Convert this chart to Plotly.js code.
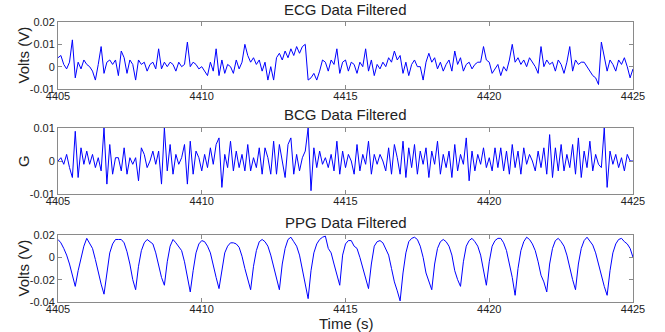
<!DOCTYPE html>
<html>
<head>
<meta charset="utf-8">
<script src="https://cdn.plot.ly/plotly-3.0.1.min.js"></script>
<style>html,body{margin:0;padding:0;background:#fff;}#chart{width:665px;height:332px;}</style>
</head>
<body>
<div id="chart"></div>
<script>
// Sampling: one value every 0.1 s from 4405 s to 4425 s
const timeStart = 4405;
const timeStep = 0.1;

// ECG filtered (V)
const ecgValues = [
  .004,.005,.001,-.001,.002,.012,-.005,.002,-.001,.003,
  .001,.000,-.002,-.006,.001,.009,-.003,.002,.003,.001,
  .003,-.004,.007,.004,-.003,.003,.001,-.006,.003,.001,
  .002,-.002,.001,.002,-.001,.008,-.001,.002,.000,.002,
  .001,-.002,.002,.000,.001,.011,.000,.002,.001,-.001,
  .000,-.002,-.004,.002,-.002,.008,-.004,.003,-.003,.001,
  .000,-.003,.003,-.001,.002,.010,.005,.002,.004,.001,
  .003,-.002,.002,-.006,.000,-.006,.004,.006,.003,.007,
  .004,.008,.005,.009,.006,.009,.010,-.006,-.005,-.003,
  -.006,-.002,.003,.002,-.002,.003,.001,.008,-.003,.002,
  .003,-.002,.002,.001,-.003,.002,.000,.008,-.002,.003,
  -.004,.001,-.001,.002,.000,.004,.002,.007,.003,.005,
  -.003,.002,-.004,.001,.003,.000,.000,-.006,.002,.006,
  .002,.004,-.001,.002,-.002,.001,.003,-.002,.007,.001,
  .004,-.002,.001,.002,-.001,.001,.002,.002,.009,.003,
  .002,-.003,-.001,.001,-.004,.000,-.002,.003,.010,.002,
  .004,.001,.003,.000,.004,.002,.000,-.003,.009,.000,
  .003,.001,.002,-.002,.003,.001,-.003,.002,.009,-.002,
  .003,.001,.002,.002,.000,-.002,-.004,-.005,-.008,.011,
  .004,-.002,.003,.001,-.002,.003,.001,.004,.000,-.005,
  -.001
];

// BCG filtered (G)
const bcgValues = [
  .000,.001,-.001,.002,-.002,-.005,.009,-.005,.004,-.001,
  .003,-.001,.002,-.002,.001,-.003,.010,-.007,.005,-.004,
  .001,.001,-.003,.004,-.004,.001,-.001,.001,-.006,.004,
  .002,-.002,.000,.003,-.001,.003,-.007,.010,-.003,.005,
  -.004,.002,-.001,.001,.005,-.007,.006,-.004,.003,.001,
  -.003,.002,-.002,.004,-.001,.005,.007,-.008,.002,-.002,
  .006,-.003,.003,-.002,.002,-.003,.005,-.003,.001,-.002,
  .004,-.004,.004,.001,-.004,.006,-.004,.005,.000,-.005,
  .005,.007,-.004,.002,-.003,.001,.003,.010,-.009,.004,
  -.002,.003,-.001,.001,-.002,.002,-.003,.006,-.004,.003,
  -.002,.002,.000,-.004,.005,-.003,.002,-.001,.006,-.004,
  .002,-.001,.002,.000,-.003,.004,-.004,.005,.001,-.004,
  .006,-.005,.004,-.002,.005,-.004,.003,-.001,.004,-.005,
  .003,-.001,.006,-.004,.002,-.002,.003,-.005,.005,-.003,
  .002,-.001,.007,-.006,.003,-.003,.002,-.001,.004,-.002,
  .001,-.003,.004,-.002,.004,-.003,.003,-.004,.005,-.002,
  .003,-.004,.004,-.001,.002,.000,-.003,.003,-.002,.004,
  -.004,.008,-.005,.004,-.003,.005,-.003,.002,-.002,.005,
  -.004,.007,-.005,.003,-.002,.006,-.003,.002,-.001,-.002,
  .010,-.008,.003,-.001,.002,-.002,.001,-.003,.002,.000,
  .000
];

// PPG filtered (V)
const ppgValues = [
  .016,.013,.008,.002,-.006,-.016,-.026,-.012,.000,.010,
  .017,.012,.008,-.002,-.014,-.024,-.033,-.012,.004,.012,
  .016,.016,.016,.013,.005,-.006,-.020,-.029,-.008,.006,
  .013,.016,.014,.012,.004,-.008,-.018,-.025,-.004,.010,
  .016,.013,.010,.006,-.004,-.018,-.031,-.012,.004,.012,
  .015,.014,.010,.004,-.008,-.018,-.028,-.010,.004,.010,
  .013,.013,.012,.009,.001,-.010,-.020,-.029,-.008,.006,
  .014,.016,.014,.010,.002,-.008,-.018,-.029,-.006,.008,
  .016,.018,.014,.010,.002,-.010,-.022,-.037,-.012,.004,
  .012,.016,.018,.019,.008,.004,-.006,-.016,-.025,.002,
  .012,.015,.015,.010,.008,.000,-.010,-.020,-.028,-.006,
  .010,.014,.015,.013,.008,.002,-.010,-.022,-.030,-.039,
  -.014,.004,.014,.017,.018,.016,.010,.000,-.014,-.022,
  -.029,-.006,.008,.014,.016,.014,.010,.002,-.012,-.020,
  -.026,-.004,.010,.015,.017,.014,.010,.002,-.010,-.025,
  -.004,.010,.015,.017,.017,.013,.006,-.006,-.018,-.034,
  -.010,.006,.014,.018,.016,.012,.006,-.004,-.016,-.022,
  -.031,-.006,.008,.015,.017,.014,.010,.002,-.010,-.020,
  -.029,-.006,.008,.015,.018,.015,.011,.004,-.006,-.018,
  -.026,-.034,-.012,.004,.012,.016,.017,.014,.012,.008,
  .000
];

// Tick values / labels
const xTickVals = [4405, 4410, 4415, 4420, 4425];
const xTickText = ['4405', '4410', '4415', '4420', '4425'];
const ecgTickVals = [-0.01, 0, 0.01, 0.02];
const ecgTickText = ['-0.01', '0', '0.01', '0.02'];
const bcgTickVals = [-0.01, 0, 0.01];
const bcgTickText = ['-0.01', '0', '0.01'];
const ppgTickVals = [-0.04, -0.02, 0, 0.02];
const ppgTickText = ['-0.04', '-0.02', '0', '0.02'];

const panelTitles = ['ECG Data Filtered', 'BCG Data Filtered', 'PPG Data Filtered'];
const yTitles = ['Volts (V)', 'G', 'Volts (V)'];
const xTitle = 'Time (s)';

const timeOf = (arr) => arr.map((_, i) => +(timeStart + i * timeStep).toFixed(2));

const W = 665, H = 332;
const px = (x) => x / W;
const py = (y) => 1 - y / H;

const lineStyle = {color: '#0000ff', width: 1};
const traces = [
  {x: timeOf(ecgValues), y: ecgValues, type: 'scatter', mode: 'lines', line: lineStyle, xaxis: 'x', yaxis: 'y', hoverinfo: 'skip'},
  {x: timeOf(bcgValues), y: bcgValues, type: 'scatter', mode: 'lines', line: lineStyle, xaxis: 'x2', yaxis: 'y2', hoverinfo: 'skip'},
  {x: timeOf(ppgValues), y: ppgValues, type: 'scatter', mode: 'lines', line: lineStyle, xaxis: 'x3', yaxis: 'y3', hoverinfo: 'skip'}
];

const font = {family: 'Liberation Sans, Arial, sans-serif', size: 11, color: '#222'};
const axisBase = {
  showline: true, mirror: 'ticks', linecolor: '#8a8a8a', linewidth: 1,
  ticks: 'inside', ticklen: 4, tickcolor: '#8a8a8a', showgrid: false, zeroline: false,
  tickfont: font, fixedrange: true
};
const xAxis = (anchor) => Object.assign({}, axisBase, {
  range: [4405, 4425], domain: [px(58), px(633)], anchor: anchor,
  tickmode: 'array', tickvals: xTickVals, ticktext: xTickText,
  ticklabelstandoff: -3
});
const yAxis = (anchor, top, bottom, range, vals, text) => Object.assign({}, axisBase, {
  range: range, domain: [py(bottom), py(top)], anchor: anchor,
  tickmode: 'array', tickvals: vals, ticktext: text
});

const titleFont = {family: 'Liberation Sans, Arial, sans-serif', size: 15, color: '#222'};
const ann = (text, x, y, angle) => ({
  text: text, xref: 'paper', yref: 'paper', x: x, y: y, xanchor: 'center', yanchor: 'middle',
  showarrow: false, font: titleFont, textangle: angle || 0
});

const layout = {
  width: W, height: H,
  margin: {l: 0, r: 0, t: 0, b: 0},
  paper_bgcolor: '#fff', plot_bgcolor: '#fff',
  showlegend: false,
  font: font,
  xaxis: xAxis('y'),
  yaxis: yAxis('x', 22, 89, [-0.01, 0.02], ecgTickVals, ecgTickText),
  xaxis2: xAxis('y2'),
  yaxis2: yAxis('x2', 128, 194, [-0.01, 0.01], bcgTickVals, bcgTickText),
  xaxis3: xAxis('y3'),
  yaxis3: yAxis('x3', 235, 302, [-0.04, 0.02], ppgTickVals, ppgTickText),
  annotations: [
    ann(panelTitles[0], px(345.5), py(9)),
    ann(panelTitles[1], px(345.5), py(115)),
    ann(panelTitles[2], px(345.5), py(222)),
    ann(yTitles[0], px(23), py(55.5), -90),
    ann(yTitles[1], px(23), py(161), -90),
    ann(yTitles[2], px(23), py(268.5), -90),
    ann(xTitle, px(345.5), py(323))
  ]
};

Plotly.newPlot('chart', traces, layout, {staticPlot: true, displayModeBar: false});
</script>
</body>
</html>
